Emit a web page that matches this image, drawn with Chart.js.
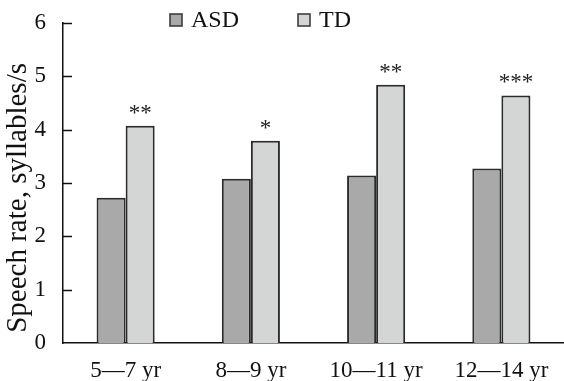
<!DOCTYPE html>
<html>
<head>
<meta charset="utf-8">
<script src="https://cdn.jsdelivr.net/npm/chart.js@4"></script>
<style>
  html, body { margin: 0; padding: 0; background: #ffffff; }
  #wrap { width: 564px; height: 381px; position: relative; }
</style>
</head>
<body>
<div id="wrap"><canvas id="c" width="564" height="381"></canvas></div>
<script>
const categories = ['5\u20147 yr', '8\u20149 yr', '10\u201411 yr', '12\u201414 yr'];
const asdValues = [2.72, 3.08, 3.14, 3.27];
const tdValues = [4.07, 3.79, 4.84, 4.64];
const significance = ['**', '*', '**', '***'];
const yTicks = [0, 1, 2, 3, 4, 5, 6];
const yTitle = 'Speech rate, syllables/s';

const FONT = "'Liberation Serif', 'Times New Roman', serif";
const INK = '#111111';

const innerTicks = {
  id: 'innerTicks',
  afterDraw(chart) {
    const ctx = chart.ctx, y = chart.scales.y, area = chart.chartArea;
    ctx.save();
    ctx.strokeStyle = INK;
    ctx.lineWidth = 1.5;
    yTicks.forEach(v => {
      if (v === 0) return;
      const py = Math.round(y.getPixelForValue(v)) + 0.5;
      ctx.beginPath();
      ctx.moveTo(area.left, py);
      ctx.lineTo(area.left + 9, py);
      ctx.stroke();
    });
    ctx.restore();
  }
};

const yTitlePlugin = {
  id: 'yTitlePlugin',
  afterDraw(chart) {
    const ctx = chart.ctx, area = chart.chartArea;
    ctx.save();
    ctx.translate(18, (area.top + area.bottom) / 2 + 15);
    ctx.rotate(-Math.PI / 2);
    ctx.font = '29px ' + FONT;
    ctx.fillStyle = INK;
    ctx.textAlign = 'center';
    ctx.textBaseline = 'middle';
    ctx.fillText(yTitle, 0, 0);
    ctx.restore();
  }
};

const starLabels = {
  id: 'starLabels',
  afterDatasetsDraw(chart) {
    const ctx = chart.ctx;
    const meta = chart.getDatasetMeta(1);
    ctx.save();
    ctx.fillStyle = '#222';
    ctx.font = '23px ' + FONT;
    ctx.textAlign = 'center';
    ctx.textBaseline = 'alphabetic';
    meta.data.forEach((bar, i) => {
      ctx.fillText(significance[i], bar.x, bar.y - 6);
    });
    ctx.restore();
  }
};

const topLegend = {
  id: 'topLegend',
  afterDraw(chart) {
    const ctx = chart.ctx;
    const xs = [170, 298];
    ctx.save();
    ctx.font = '24px ' + FONT;
    ctx.textBaseline = 'middle';
    ctx.textAlign = 'left';
    chart.data.datasets.forEach((ds, i) => {
      const x = xs[i], yc = 20;
      ctx.fillStyle = ds.backgroundColor;
      ctx.fillRect(x, yc - 6, 12, 12);
      ctx.strokeStyle = '#333';
      ctx.lineWidth = 1.5;
      ctx.strokeRect(x, yc - 6, 12, 12);
      ctx.fillStyle = INK;
      ctx.fillText(ds.label, x + 21, yc + 1);
    });
    ctx.restore();
  }
};

new Chart(document.getElementById('c'), {
  type: 'bar',
  data: {
    labels: categories,
    datasets: [
      { label: 'ASD', data: asdValues, backgroundColor: '#a9a9a9', borderColor: '#2b2b2b', borderWidth: 2 },
      { label: 'TD', data: tdValues, backgroundColor: '#d4d5d5', borderColor: '#2b2b2b', borderWidth: 2 }
    ]
  },
  options: {
    responsive: false,
    animation: false,
    devicePixelRatio: 1,
    layout: { padding: { top: 20, right: -9, bottom: 0, left: 0 } },
    datasets: { bar: { categoryPercentage: 0.464, barPercentage: 1.0 } },
    plugins: { legend: { display: false }, tooltip: { enabled: false } },
    scales: {
      x: {
        grid: { display: false },
        border: { display: true, color: INK, width: 1.5 },
        ticks: { color: INK, font: { family: FONT, size: 23 }, padding: 6, maxRotation: 0, autoSkip: false },
        afterFit(s) { s.height = 38; }
      },
      y: {
        min: 0, max: 6,
        afterBuildTicks(s) { s.ticks = yTicks.map(v => ({ value: v })); },
        grid: { display: false },
        border: { display: true, color: INK, width: 1.5 },
        ticks: { color: INK, font: { family: FONT, size: 23 }, padding: 9 },
        title: { display: false },
        afterFit(s) { s.width = 63; }
      }
    }
  },
  plugins: [innerTicks, yTitlePlugin, starLabels, topLegend]
});
</script>
</body>
</html>
